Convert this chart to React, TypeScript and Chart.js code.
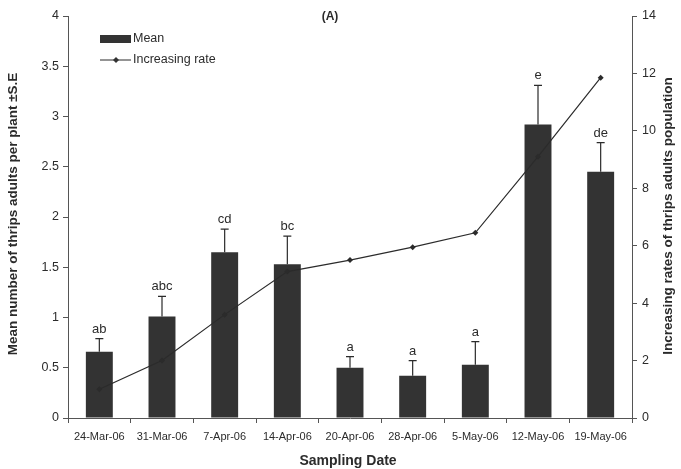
import React, { useEffect, useRef } from "react";
import { Chart, registerables } from "chart.js";

Chart.register(...registerables);

const categories = ["24-Mar-06", "31-Mar-06", "7-Apr-06", "14-Apr-06", "20-Apr-06", "28-Apr-06", "5-May-06", "12-May-06", "19-May-06"];
const meanValues = [0.66, 1.01, 1.65, 1.53, 0.5, 0.42, 0.53, 2.92, 2.45];
const seValues = [0.13, 0.2, 0.23, 0.28, 0.11, 0.15, 0.23, 0.39, 0.29];
const letters = ["ab", "abc", "cd", "bc", "a", "a", "a", "e", "de"];
const rateValues = [1.0, 2.0, 3.6, 5.1, 5.5, 5.95, 6.45, 9.1, 11.85];

const FONT = "'Liberation Sans', Arial, sans-serif";
const INK = "#2b2b2b";

const overlayPlugin = {
  id: "overlay",
  afterDatasetsDraw(chart: any) {
    const ctx = chart.ctx;
    const x = chart.scales.x;
    const y = chart.scales.y;
    ctx.save();
    ctx.strokeStyle = INK;
    ctx.fillStyle = INK;
    ctx.lineWidth = 1.2;
    meanValues.forEach((v, i) => {
      const cx = x.getPixelForValue(i);
      const y0 = y.getPixelForValue(v);
      const y1 = y.getPixelForValue(v + seValues[i]);
      ctx.beginPath();
      ctx.moveTo(cx, y0);
      ctx.lineTo(cx, y1);
      ctx.moveTo(cx - 4, y1);
      ctx.lineTo(cx + 4, y1);
      ctx.stroke();
      ctx.font = `13px ${FONT}`;
      ctx.textAlign = "center";
      ctx.textBaseline = "bottom";
      ctx.fillText(letters[i], cx, y1 - 3);
    });
    ctx.restore();
  },
  afterDraw(chart: any) {
    const ctx = chart.ctx;
    const area = chart.chartArea;
    ctx.save();
    ctx.fillStyle = INK;
    ctx.strokeStyle = INK;
    // title
    ctx.font = `bold 12px ${FONT}`;
    ctx.textAlign = "center";
    ctx.textBaseline = "middle";
    ctx.fillText("(A)", 330, 17);
    // legend
    ctx.fillStyle = "#333";
    ctx.fillRect(100, 35, 31, 8);
    ctx.beginPath();
    ctx.lineWidth = 1;
    ctx.moveTo(100, 60);
    ctx.lineTo(131, 60);
    ctx.stroke();
    ctx.beginPath();
    ctx.moveTo(116, 57);
    ctx.lineTo(119, 60);
    ctx.lineTo(116, 63);
    ctx.lineTo(113, 60);
    ctx.closePath();
    ctx.fill();
    ctx.fillStyle = INK;
    ctx.font = `12.5px ${FONT}`;
    ctx.textAlign = "left";
    ctx.fillText("Mean", 133, 39);
    ctx.fillText("Increasing rate", 133, 60);
    // axis titles
    ctx.font = `bold 13.5px ${FONT}`;
    ctx.textAlign = "center";
    const midY = (area.top + area.bottom) / 2;
    ctx.save();
    ctx.translate(13, midY - 3);
    ctx.rotate(-Math.PI / 2);
    ctx.fillText("Mean number of thrips adults per plant \u00b1S.E", 0, 0);
    ctx.restore();
    ctx.save();
    ctx.translate(668, midY - 1);
    ctx.rotate(-Math.PI / 2);
    ctx.fillText("Increasing rates of thrips adults population", 0, 0);
    ctx.restore();
    ctx.font = `bold 14px ${FONT}`;
    ctx.fillText("Sampling Date", 348, 461);
    ctx.restore();
  },
};

export default function App() {
  const ref = useRef<HTMLCanvasElement>(null);
  useEffect(() => {
    document.body.style.margin = "0";
    const chart = new Chart(ref.current as HTMLCanvasElement, {
      type: "bar",
      data: {
        labels: categories,
        datasets: [
          {
            type: "line",
            label: "Increasing rate",
            data: rateValues,
            yAxisID: "y1",
            borderColor: INK,
            backgroundColor: INK,
            borderWidth: 1.2,
            pointStyle: "rectRot",
            pointRadius: 3,
            pointBackgroundColor: INK,
            pointBorderWidth: 0,
            tension: 0,
            order: 0,
          } as any,
          {
            type: "bar",
            label: "Mean",
            data: meanValues,
            yAxisID: "y",
            backgroundColor: "#333333",
            borderWidth: 0,
            categoryPercentage: 0.86,
            barPercentage: 0.5,
            order: 1,
          } as any,
        ],
      },
      options: {
        responsive: false,
        animation: false,
        devicePixelRatio: 1,
        layout: { padding: { top: 16, left: 0, right: 0, bottom: 0 } },
        plugins: { legend: { display: false }, tooltip: { enabled: false }, title: { display: false } },
        scales: {
          x: {
            offset: true,
            grid: { offset: true, drawOnChartArea: false, drawTicks: true, tickLength: 5, color: "#555" },
            border: { color: "#555", width: 1 },
            ticks: { color: INK, font: { family: FONT, size: 11 }, padding: 7, maxRotation: 0, autoSkip: false },
            afterFit: (s: any) => { s.height = 51; },
          },
          y: {
            position: "left",
            min: 0,
            max: 4,
            ticks: { stepSize: 0.5, color: INK, font: { family: FONT, size: 12.5 }, padding: 4, callback: (v: any) => String(v) },
            grid: { drawOnChartArea: false, tickLength: 5, color: "#555" },
            border: { color: "#555", width: 1 },
            afterFit: (s: any) => { s.width = 68; },
          },
          y1: {
            position: "right",
            min: 0,
            max: 14,
            ticks: { stepSize: 2, color: INK, font: { family: FONT, size: 12.5 }, padding: 5, callback: (v: any) => String(v) },
            grid: { drawOnChartArea: false, tickLength: 5, color: "#555" },
            border: { color: "#555", width: 1 },
            afterFit: (s: any) => { s.width = 49; },
          },
        },
      },
      plugins: [overlayPlugin],
    });
    return () => chart.destroy();
  }, []);
  return <canvas ref={ref} width={681} height={469} style={{ display: "block" }} />;
}
